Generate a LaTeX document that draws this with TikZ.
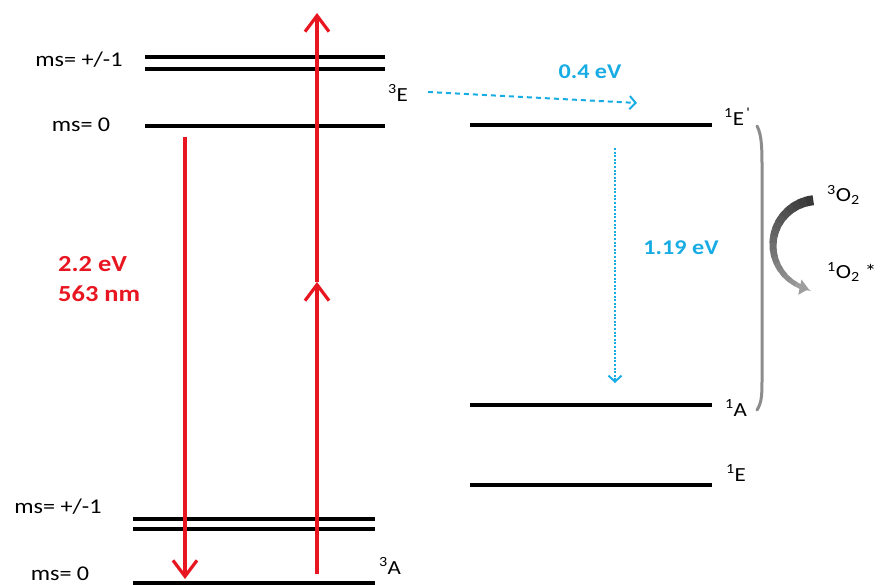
\documentclass[tikz,border=0pt]{standalone}
\usepackage{fontspec}
\setmainfont{Carlito}[FakeStretch=1.15]
\usetikzlibrary{arrows.meta}
\definecolor{nvred}{RGB}{232,22,32}
\definecolor{nvblue}{RGB}{24,172,228}
\begin{document}
\begin{tikzpicture}[x=1pt,y=-1pt,
  level/.style={line width=3.6pt},
  lbl/.style={inner sep=0pt, font=\fontsize{20}{22}\selectfont},
  mslbl/.style={inner sep=0pt, font=\fontsize{21}{23}\selectfont},
  redtxt/.style={inner sep=0pt, text=nvred, font=\bfseries\fontsize{23}{30}\selectfont, align=left},
  bluetxt/.style={inner sep=0pt, text=nvblue, font=\bfseries\fontsize{21}{23}\selectfont},
  redarrow/.style={draw=nvred, line width=3.2pt, -{Straight Barb[length=16pt,width=24pt]}},
  bluedash/.style={draw=nvblue, line width=2pt, dash pattern=on 5pt off 4pt, -{Straight Barb[length=6pt,width=13pt]}},
  bluedot/.style={draw=nvblue, line width=2pt, dash pattern=on 2pt off 1.6pt, -{Straight Barb[length=6pt,width=13pt]}}]
\useasboundingbox (0,0) rectangle (885,585);
% upper triplet 3E
\coordinate (e1a) at (145,57);  \coordinate (e1b) at (385,57);
\coordinate (e2a) at (145,69);  \coordinate (e2b) at (385,69);
\coordinate (e0a) at (145,126); \coordinate (e0b) at (385,126);
\draw[level] (e1a) -- (e1b);
\draw[level] (e2a) -- (e2b);
\draw[level] (e0a) -- (e0b);
% lower triplet 3A
\coordinate (a1a) at (133,519); \coordinate (a1b) at (375,519);
\coordinate (a2a) at (133,529); \coordinate (a2b) at (375,529);
\coordinate (a0a) at (133,583); \coordinate (a0b) at (375,583);
\draw[level] (a1a) -- (a1b);
\draw[level] (a2a) -- (a2b);
\draw[level] (a0a) -- (a0b);
% singlets
\coordinate (s1a) at (470,125); \coordinate (s1b) at (712,125);
\coordinate (s2a) at (470,405); \coordinate (s2b) at (712,405);
\coordinate (s3a) at (470,485); \coordinate (s3b) at (712,485);
\draw[level] (s1a) -- (s1b);
\draw[level] (s2a) -- (s2b);
\draw[level] (s3a) -- (s3b);
% labels
\node[mslbl] (lms1u) at (79,60) {ms= +/-1};
\node[mslbl] (lms0u) at (81,125) {ms= 0};
\node[mslbl] (lms1d) at (58,507) {ms= +/-1};
\node[mslbl] (lms0d) at (60,574) {ms= 0};
\node[lbl] (l3E) at (398,93) {\textsuperscript{3}E};
\node[lbl] (l3A) at (390,566) {\textsuperscript{3}A};
\node[lbl] (l1Ep) at (737,117) {\textsuperscript{1}E\textsuperscript{\,\textquotesingle}};
\node[lbl] (l1A) at (736,408) {\textsuperscript{1}A};
\node[lbl] (l1E) at (736,473) {\textsuperscript{1}E};
\node[lbl, anchor=west] (l3O2) at (827,195) {\textsuperscript{3}O\textsubscript{2}};
\node[lbl, anchor=west] (l1O2) at (827,272) {\textsuperscript{1}O\textsubscript{2} *};
% red arrows
\coordinate (dT) at (185,137); \coordinate (dB) at (185,579);
\draw[redarrow] (dT) -- (dB);
\coordinate (uB) at (317,574); \coordinate (uM) at (317,282); \coordinate (uT) at (317,13);
\draw[redarrow] (uB) -- (uM);
\draw[redarrow] (uM) -- (uT);
\node[redtxt, anchor=west] (lred) at (58,279) {2.2 eV\\563 nm};
% blue arrows
\coordinate (bd1) at (428,92); \coordinate (bd2) at (637,103);
\draw[bluedash] (bd1) -- (bd2);
\node[bluetxt] (l04) at (590,72) {0.4 eV};
\coordinate (bv1) at (615,148); \coordinate (bv2) at (615,383);
\draw[bluedot] (bv1) -- (bv2);
\node[bluetxt] (l119) at (681,248) {1.19 eV};
% bracket
\coordinate (brT) at (757,126); \coordinate (brB) at (757,410);
\draw[black!45, line width=3pt, line cap=round] (brT) .. controls (762,135) and (762,150) .. (762,170) -- (762,375) .. controls (762,395) and (762,402) .. (brB);
% curved arrow (tapered, shaded)
\foreach \i in {0,...,15} {
  \pgfmathsetmacro{\aa}{96+\i*9}
  \pgfmathsetmacro{\ab}{\aa+9.8}
  \pgfmathsetmacro{\lw}{10-\i*0.33}
  \pgfmathsetmacro{\sh}{78-\i*2.4}
  \draw[black!\sh, line width=\lw pt] ({818+45*cos(\aa)},{245-45*sin(\aa)}) arc[start angle=-\aa, end angle=-\ab, radius=45];
}
\draw[black!38, line width=4.8pt, -{Triangle[length=9pt,width=15pt]}] ({818+45*cos(240)},{245-45*sin(240)}) arc[start angle=-240, end angle=-258, radius=45];
\end{tikzpicture}
\end{document}
